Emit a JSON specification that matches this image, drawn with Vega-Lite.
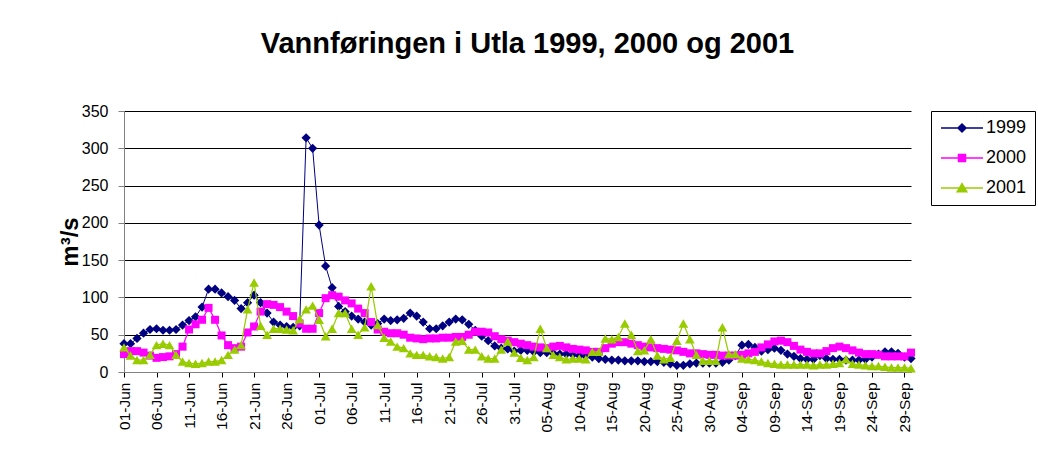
{
"$schema": "https://vega.github.io/schema/vega-lite/v6.json",
"width": 787, "height": 261,
"autosize": {"type": "none"},
"padding": {"left": 124, "top": 111, "right": 127, "bottom": 82},
"background": "white",
"config": {"view": {"stroke": null}, "font": "Liberation Sans"},
"title": {"text": "Vannføringen i Utla 1999, 2000 og 2001", "font": "Liberation Sans", "fontSize": 29, "fontWeight": "bold", "color": "black", "anchor": "middle", "baseline": "alphabetic", "offset": 21, "dx": 10},
"data": {"values": [
{"d":"01-Jun","1999":38,"2000":24,"2001":33},
{"d":"02-Jun","1999":38,"2000":28,"2001":22},
{"d":"03-Jun","1999":45,"2000":28,"2001":16},
{"d":"04-Jun","1999":52,"2000":26,"2001":16},
{"d":"05-Jun","1999":57,"2000":22,"2001":23},
{"d":"06-Jun","1999":58,"2000":19,"2001":36},
{"d":"07-Jun","1999":56,"2000":20,"2001":38},
{"d":"08-Jun","1999":56,"2000":21,"2001":36},
{"d":"09-Jun","1999":57,"2000":24,"2001":23},
{"d":"10-Jun","1999":63,"2000":34,"2001":14},
{"d":"11-Jun","1999":69,"2000":57,"2001":12},
{"d":"12-Jun","1999":74,"2000":64,"2001":11},
{"d":"13-Jun","1999":87,"2000":70,"2001":12},
{"d":"14-Jun","1999":111,"2000":86,"2001":14},
{"d":"15-Jun","1999":111,"2000":70,"2001":14},
{"d":"16-Jun","1999":106,"2000":49,"2001":16},
{"d":"17-Jun","1999":101,"2000":36,"2001":23},
{"d":"18-Jun","1999":96,"2000":32,"2001":30},
{"d":"19-Jun","1999":85,"2000":34,"2001":36},
{"d":"20-Jun","1999":93,"2000":53,"2001":84},
{"d":"21-Jun","1999":103,"2000":61,"2001":120},
{"d":"22-Jun","1999":93,"2000":81,"2001":62},
{"d":"23-Jun","1999":79,"2000":91,"2001":50},
{"d":"24-Jun","1999":67,"2000":90,"2001":58},
{"d":"25-Jun","1999":63,"2000":87,"2001":58},
{"d":"26-Jun","1999":61,"2000":81,"2001":57},
{"d":"27-Jun","1999":60,"2000":75,"2001":56},
{"d":"28-Jun","1999":62,"2000":65,"2001":71},
{"d":"29-Jun","1999":314,"2000":58,"2001":84},
{"d":"30-Jun","1999":300,"2000":58,"2001":89},
{"d":"01-Jul","1999":197,"2000":79,"2001":70},
{"d":"02-Jul","1999":142,"2000":99,"2001":48},
{"d":"03-Jul","1999":113,"2000":103,"2001":58},
{"d":"04-Jul","1999":88,"2000":101,"2001":79},
{"d":"05-Jul","1999":81,"2000":96,"2001":79},
{"d":"06-Jul","1999":75,"2000":92,"2001":58},
{"d":"07-Jul","1999":71,"2000":85,"2001":50},
{"d":"08-Jul","1999":67,"2000":79,"2001":60},
{"d":"09-Jul","1999":63,"2000":67,"2001":115},
{"d":"10-Jul","1999":65,"2000":57,"2001":63},
{"d":"11-Jul","1999":71,"2000":54,"2001":46},
{"d":"12-Jul","1999":69,"2000":52,"2001":41},
{"d":"13-Jul","1999":70,"2000":52,"2001":34},
{"d":"14-Jul","1999":72,"2000":50,"2001":32},
{"d":"15-Jul","1999":79,"2000":46,"2001":25},
{"d":"16-Jul","1999":75,"2000":45,"2001":23},
{"d":"17-Jul","1999":67,"2000":44,"2001":23},
{"d":"18-Jul","1999":58,"2000":45,"2001":21},
{"d":"19-Jul","1999":58,"2000":45,"2001":20},
{"d":"20-Jul","1999":62,"2000":46,"2001":18},
{"d":"21-Jul","1999":67,"2000":46,"2001":20},
{"d":"22-Jul","1999":71,"2000":47,"2001":41},
{"d":"23-Jul","1999":70,"2000":47,"2001":42},
{"d":"24-Jul","1999":64,"2000":50,"2001":30},
{"d":"25-Jul","1999":56,"2000":54,"2001":30},
{"d":"26-Jul","1999":48,"2000":54,"2001":21},
{"d":"27-Jul","1999":42,"2000":53,"2001":18},
{"d":"28-Jul","1999":35,"2000":48,"2001":18},
{"d":"29-Jul","1999":32,"2000":44,"2001":30},
{"d":"30-Jul","1999":31,"2000":42,"2001":41},
{"d":"31-Jul","1999":28,"2000":40,"2001":26},
{"d":"01-Aug","1999":29,"2000":38,"2001":19},
{"d":"02-Aug","1999":29,"2000":36,"2001":16},
{"d":"03-Aug","1999":27,"2000":34,"2001":20},
{"d":"04-Aug","1999":26,"2000":33,"2001":58},
{"d":"05-Aug","1999":26,"2000":32,"2001":32},
{"d":"06-Aug","1999":25,"2000":34,"2001":23},
{"d":"07-Aug","1999":24,"2000":35,"2001":20},
{"d":"08-Aug","1999":24,"2000":33,"2001":17},
{"d":"09-Aug","1999":23,"2000":31,"2001":18},
{"d":"10-Aug","1999":22,"2000":30,"2001":18},
{"d":"11-Aug","1999":21,"2000":29,"2001":17},
{"d":"12-Aug","1999":20,"2000":27,"2001":27},
{"d":"13-Aug","1999":18,"2000":27,"2001":27},
{"d":"14-Aug","1999":17,"2000":32,"2001":45},
{"d":"15-Aug","1999":16,"2000":38,"2001":44},
{"d":"16-Aug","1999":16,"2000":40,"2001":47},
{"d":"17-Aug","1999":15,"2000":40,"2001":65},
{"d":"18-Aug","1999":15,"2000":38,"2001":50},
{"d":"19-Aug","1999":15,"2000":36,"2001":28},
{"d":"20-Aug","1999":14,"2000":34,"2001":29},
{"d":"21-Aug","1999":14,"2000":33,"2001":44},
{"d":"22-Aug","1999":14,"2000":32,"2001":22},
{"d":"23-Aug","1999":13,"2000":31,"2001":17},
{"d":"24-Aug","1999":11,"2000":30,"2001":19},
{"d":"25-Aug","1999":9,"2000":29,"2001":42},
{"d":"26-Aug","1999":9,"2000":27,"2001":65},
{"d":"27-Aug","1999":11,"2000":25,"2001":44},
{"d":"28-Aug","1999":12,"2000":25,"2001":23},
{"d":"29-Aug","1999":12,"2000":24,"2001":15},
{"d":"30-Aug","1999":12,"2000":23,"2001":15},
{"d":"31-Aug","1999":12,"2000":23,"2001":15},
{"d":"01-Sep","1999":13,"2000":22,"2001":60},
{"d":"02-Sep","1999":16,"2000":22,"2001":24},
{"d":"03-Sep","1999":22,"2000":22,"2001":24},
{"d":"04-Sep","1999":36,"2000":23,"2001":18},
{"d":"05-Sep","1999":37,"2000":25,"2001":17},
{"d":"06-Sep","1999":33,"2000":27,"2001":16},
{"d":"07-Sep","1999":28,"2000":33,"2001":14},
{"d":"08-Sep","1999":30,"2000":37,"2001":12},
{"d":"09-Sep","1999":32,"2000":41,"2001":11},
{"d":"10-Sep","1999":29,"2000":42,"2001":10},
{"d":"11-Sep","1999":24,"2000":40,"2001":10},
{"d":"12-Sep","1999":21,"2000":35,"2001":10},
{"d":"13-Sep","1999":18,"2000":30,"2001":10},
{"d":"14-Sep","1999":17,"2000":27,"2001":10},
{"d":"15-Sep","1999":17,"2000":25,"2001":9},
{"d":"16-Sep","1999":22,"2000":25,"2001":10},
{"d":"17-Sep","1999":18,"2000":28,"2001":10},
{"d":"18-Sep","1999":17,"2000":32,"2001":11},
{"d":"19-Sep","1999":17,"2000":34,"2001":12},
{"d":"20-Sep","1999":16,"2000":32,"2001":17},
{"d":"21-Sep","1999":16,"2000":29,"2001":11},
{"d":"22-Sep","1999":16,"2000":26,"2001":10},
{"d":"23-Sep","1999":17,"2000":24,"2001":9},
{"d":"24-Sep","1999":20,"2000":24,"2001":8},
{"d":"25-Sep","1999":24,"2000":23,"2001":8},
{"d":"26-Sep","1999":27,"2000":21,"2001":7},
{"d":"27-Sep","1999":27,"2000":21,"2001":6},
{"d":"28-Sep","1999":25,"2000":21,"2001":6},
{"d":"29-Sep","1999":20,"2000":21,"2001":6},
{"d":"30-Sep","1999":18,"2000":26,"2001":5}
]},
"transform": [{"fold": ["1999", "2000", "2001"], "as": ["year", "flow"]}],
"encoding": {
  "x": {"field": "d", "type": "ordinal", "sort": null, "scale": {"type": "point", "padding": 0},
    "axis": {"title": null, "values": ["01-Jun","06-Jun","11-Jun","16-Jun","21-Jun","26-Jun","01-Jul","06-Jul","11-Jul","16-Jul","21-Jul","26-Jul","31-Jul","05-Aug","10-Aug","15-Aug","20-Aug","25-Aug","30-Aug","04-Sep","09-Sep","14-Sep","19-Sep","24-Sep","29-Sep"],
      "labelAngle": 270, "labelAlign": "right", "labelBaseline": "middle", "labelFont": "Liberation Sans", "labelFontSize": 15.5, "labelColor": "black", "labelPadding": 5, "labelOverlap": false,
      "tickSize": 5, "tickColor": "#000000", "domainColor": "#808080", "grid": false}},
  "y": {"field": "flow", "type": "quantitative", "scale": {"domain": [0, 350], "nice": false, "zero": true},
    "axis": {"title": "m³/s", "titleFont": "Liberation Sans", "titleFontSize": 24, "titleFontWeight": "bold", "titleColor": "black", "titlePadding": -1,
      "values": [0, 50, 100, 150, 200, 250, 300, 350], "grid": true, "gridColor": "#000000", "gridWidth": 1,
      "domainColor": "#808080", "tickColor": "#808080", "tickSize": 6, "labelPadding": 10,
      "labelFont": "Liberation Sans", "labelFontSize": 16, "labelColor": "black"}},
  "color": {"field": "year", "type": "nominal",
    "scale": {"domain": ["1999", "2000", "2001"], "range": ["#000080", "#FF00FF", "#99CC00"]},
    "legend": {"title": null, "orient": "right", "offset": 17, "padding": 8, "strokeColor": "black", "fillColor": "white",
      "labelFont": "Liberation Sans", "labelFontSize": 18, "labelColor": "black", "labelOffset": 29,
      "symbolSize": 100, "rowPadding": 12, "symbolStrokeWidth": 1.5,
      "encode": {"symbols": {"update": {
        "shape": {"signal": "datum.value === '1999' ? 'M-1.4,0H7M2.8,-0.8L3.6,0L2.8,0.8L2,0Z' : datum.value === '2000' ? 'M-1.4,0H7M2.1,-0.7H3.5V0.7H2.1Z' : 'M-1.4,0H7M2.8,-0.85L3.75,0.75H1.85Z'"},
        "opacity": {"value": 1}
      }}}}}
},
"layer": [
  {"transform": [{"filter": "datum.year === '1999'"}], "mark": {"type": "line", "strokeWidth": 1}},
  {"transform": [{"filter": "datum.year === '1999'"}], "mark": {"type": "point", "filled": true, "opacity": 1, "shape": "diamond", "size": 85}},
  {"transform": [{"filter": "datum.year === '2000'"}], "mark": {"type": "line", "strokeWidth": 1.25}},
  {"transform": [{"filter": "datum.year === '2000'"}], "mark": {"type": "point", "filled": true, "opacity": 1, "shape": "square", "size": 64}},
  {"transform": [{"filter": "datum.year === '2001'"}], "mark": {"type": "line", "strokeWidth": 1.25}},
  {"transform": [{"filter": "datum.year === '2001'"}], "mark": {"type": "point", "filled": true, "opacity": 1, "shape": "triangle-up", "size": 95}}
]
}
